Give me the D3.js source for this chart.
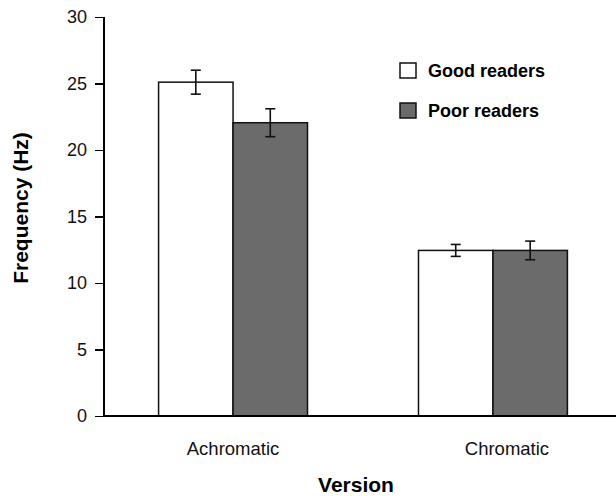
<!DOCTYPE html>
<html>
<meta charset="utf-8">
<head>
<style>
body { margin: 0; background: #fff; }
svg { display: block; }
.axis path, .axis line { stroke: #000; stroke-width: 1.5px; shape-rendering: crispEdges; }
.axis text { font: 18px "Liberation Sans", Arial, sans-serif; fill: #111; }
.cat text { font: 18.5px "Liberation Sans", Arial, sans-serif; fill: #111; }
.title { font: bold 21px "Liberation Sans", Arial, sans-serif; fill: #000; }
#legend text { font: bold 18px "Liberation Sans", Arial, sans-serif; fill: #000; }
</style>
</head>
<body>
<svg width="616" height="496"></svg>

<script src="https://d3js.org/d3.v7.min.js"></script>
<script>

// chart values
var categories = ["Achromatic", "Chromatic"];
var series = ["Good readers", "Poor readers"];
var goodMeans = [25.1, 12.45];
var goodErr = [0.9, 0.45];
var poorMeans = [22.05, 12.45];
var poorErr = [1.05, 0.7];
var yTicks = [0, 5, 10, 15, 20, 25, 30];

var colors = ["#ffffff", "#6b6b6b"];

var svg = d3.select("svg"),
  plotLeft = 104, plotBottom = 416, plotTop = 17;

var y = d3.scaleLinear().domain([0, 30]).range([plotBottom, plotTop]);

var x0 = d3.scaleBand().domain(categories).range([plotLeft, 622])
  .paddingInner(0.427).paddingOuter(0.21);
var x1 = d3.scaleBand().domain(series).range([0, x0.bandwidth()]);

var rows = categories.map(function(c, i) {
  return [
    {cat: c, s: series[0], v: goodMeans[i], e: goodErr[i]},
    {cat: c, s: series[1], v: poorMeans[i], e: poorErr[i]}
  ];
});

// y axis
svg.append("g")
  .attr("class", "axis")
  .attr("transform", "translate(" + plotLeft + ",0)")
  .call(d3.axisLeft(y).tickValues(yTicks).tickSize(9).tickPadding(8).tickSizeOuter(0))
  .call(function(g) { g.select(".domain").attr("d", "M0," + y(30) + "V" + plotBottom); });

// bars
var groups = svg.append("g").selectAll("g")
  .data(rows).enter().append("g")
  .attr("transform", function(d, i) { return "translate(" + x0(categories[i]) + ",0)"; });

groups.selectAll("rect")
  .data(function(d) { return d; }).enter().append("rect")
  .attr("x", function(d) { return x1(d.s); })
  .attr("y", function(d) { return y(d.v); })
  .attr("width", x1.bandwidth())
  .attr("height", function(d) { return plotBottom - y(d.v); })
  .style("fill", function(d) { return colors[series.indexOf(d.s)]; })
  .style("stroke", "#111")
  .style("stroke-width", 1.5);

// error bars
var cap = 5;
var eb = groups.selectAll("g.err")
  .data(function(d) { return d; }).enter().append("g")
  .attr("class", "err")
  .style("stroke", "#111").style("stroke-width", 1.6);
eb.append("line")
  .attr("x1", function(d) { return x1(d.s) + x1.bandwidth() / 2; })
  .attr("x2", function(d) { return x1(d.s) + x1.bandwidth() / 2; })
  .attr("y1", function(d) { return y(d.v + d.e); })
  .attr("y2", function(d) { return y(d.v - d.e); });
eb.selectAll("line.cap")
  .data(function(d) { return [d.v + d.e, d.v - d.e].map(function(v) { return {s: d.s, v: v}; }); })
  .enter().append("line")
  .attr("class", "cap")
  .attr("x1", function(d) { return x1(d.s) + x1.bandwidth() / 2 - cap; })
  .attr("x2", function(d) { return x1(d.s) + x1.bandwidth() / 2 + cap; })
  .attr("y1", function(d) { return y(d.v); })
  .attr("y2", function(d) { return y(d.v); });

// x axis line
svg.append("g")
  .attr("class", "axis")
  .append("line")
  .attr("x1", plotLeft).attr("x2", 616)
  .attr("y1", plotBottom).attr("y2", plotBottom);

// category labels
var labelShift = [0, 14];
svg.append("g").attr("class", "cat")
  .selectAll("text").data(categories).enter().append("text")
  .attr("x", function(d, i) { return x0(d) + x0.bandwidth() / 2 + labelShift[i]; })
  .attr("y", 455)
  .attr("text-anchor", "middle")
  .text(function(d) { return d; });

// titles
svg.append("text").attr("class", "title")
  .attr("x", 356).attr("y", 492)
  .attr("text-anchor", "middle")
  .text("Version");

svg.append("text").attr("class", "title")
  .attr("transform", "translate(28,208) rotate(-90)")
  .attr("text-anchor", "middle")
  .text("Frequency (Hz)");

// legend
var legend = svg.append("g").attr("id", "legend")
  .selectAll("g").data(series).enter().append("g")
  .attr("transform", function(d, i) { return "translate(400," + (63 + i * 40) + ")"; });
legend.append("rect")
  .attr("width", 16).attr("height", 15)
  .style("fill", function(d, i) { return colors[i]; })
  .style("stroke", "#111").style("stroke-width", 1.5);
legend.append("text")
  .attr("x", 28).attr("y", 14)
  .text(function(d) { return d; });

</script>
</body>
</html>
